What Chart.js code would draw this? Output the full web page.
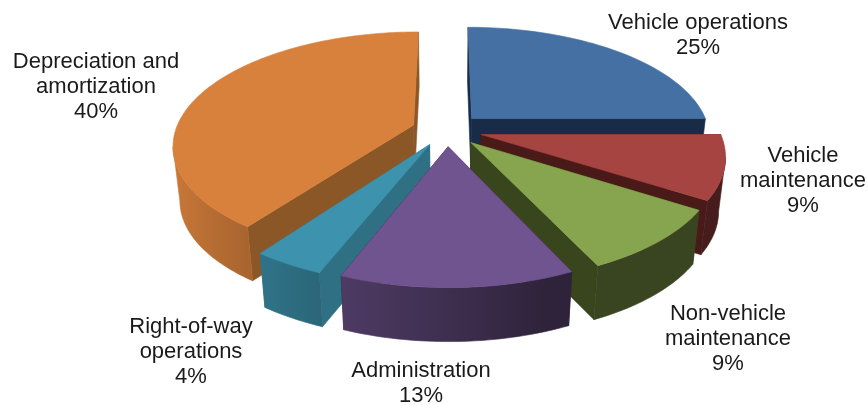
<!DOCTYPE html>
<html>
<head>
<meta charset="utf-8">
<title>Operating costs</title>
<script src="https://cdn.jsdelivr.net/npm/chart.js"></script>
<style>
  html, body { margin: 0; padding: 0; background: #fff; }
  canvas { display: block; }
</style>
</head>
<body>
<canvas id="pie-chart" width="867" height="405"></canvas>
<script>
const categories = ['Vehicle operations', 'Vehicle maintenance', 'Non-vehicle maintenance', 'Administration', 'Right-of-way operations', 'Depreciation and amortization'];
const shares = [25, 9, 9, 13, 4, 40];

// wrapped label text, same order as categories
const labelLines = [
  ['Vehicle operations'],
  ['Vehicle', 'maintenance'],
  ['Non-vehicle', 'maintenance'],
  ['Administration'],
  ['Right-of-way', 'operations'],
  ['Depreciation and', 'amortization']
];
const labelAnchors = [[698, 29], [803, 162], [728, 320], [421, 377], [191, 333], [96, 68]];

const topColors = ['#4470a4', '#a64442', '#87a44e', '#70548f', '#3d93ae', '#d8813c'];
const cutColors = ['#182c48', '#4a1a18', '#38451d', '#2c2040', '#2f7085', '#8c5726'];

// the view of the tilted pie
const view = { cx: 447, cy: 130, radius: 238, tilt: 0.464, persp: 0.17, depth: 54, shrink: 0.975 };

function project(u, v) {
  const p = 1 / (1 - view.persp * v);
  return [view.cx + view.radius * u * p, view.cy + view.radius * view.tilt * v * p];
}

function lower(pt) {
  return [view.cx + (pt[0] - view.cx) * view.shrink, pt[1] + view.depth];
}

function shade(hex, f) {
  const n = parseInt(hex.slice(1), 16);
  const r = Math.round((n >> 16) * f);
  const g = Math.round(((n >> 8) & 255) * f);
  const b = Math.round((n & 255) * f);
  return `rgb(${r},${g},${b})`;
}

function fillPoly(ctx, pts, color) {
  ctx.beginPath();
  pts.forEach((p, i) => (i ? ctx.lineTo(p[0], p[1]) : ctx.moveTo(p[0], p[1])));
  ctx.closePath();
  ctx.fillStyle = color;
  ctx.strokeStyle = color;
  ctx.lineWidth = 0.6;
  ctx.fill();
  ctx.stroke();
}

// outer wall in one piece, lighter to the left and darker to the right
function fillWall(ctx, front, top) {
  const xs = front.map(r => r.pt[0]);
  const x0 = Math.min(...xs);
  const x1 = Math.max(...xs);
  const grad = ctx.createLinearGradient(x0, 0, x1, 0);
  [...front].sort((p, q) => p.pt[0] - q.pt[0]).forEach(r => {
    grad.addColorStop((r.pt[0] - x0) / (x1 - x0), shade(top, Math.max(0.42, 0.55 - 0.4 * Math.cos(r.a))));
  });
  const upper = front.map(r => r.pt);
  fillPoly(ctx, upper.concat(upper.map(lower).reverse()), grad);
}

// pie arcs come from the chart, this only draws them as tilted solid slices
const solidPie = {
  id: 'solidPie',
  beforeDatasetsDraw(chart) {
    const ctx = chart.ctx;
    const arcs = chart.getDatasetMeta(0).data.map((arc, index) => ({ arc, index }));
    const midOf = a => (a.arc.startAngle + a.arc.endAngle) / 2;
    arcs.sort((a, b) => Math.sin(midOf(a)) - Math.sin(midOf(b)));

    arcs.forEach(item => {
      const arc = item.arc;
      const mid = midOf(item);
      const e = arc.options.offset / arc.outerRadius;
      const ou = Math.cos(mid) * e;
      const ov = Math.sin(mid) * e;
      const apex = project(ou, ov);
      const steps = Math.max(8, Math.round((arc.endAngle - arc.startAngle) * 40));
      const rim = [];
      for (let i = 0; i <= steps; i++) {
        const a = arc.startAngle + (arc.endAngle - arc.startAngle) * i / steps;
        rim.push({ a, pt: project(ou + Math.cos(a), ov + Math.sin(a)) });
      }
      const first = rim[0].pt;
      const last = rim[steps].pt;
      const cut = cutColors[item.index];
      const top = topColors[item.index];

      fillPoly(ctx, [apex, first, lower(first), lower(apex)], cut);
      fillPoly(ctx, [apex, last, lower(last), lower(apex)], cut);

      // the rim faces the viewer where it runs right to left on screen
      const front = rim.filter((r, i) =>
        (rim[i + 1] && rim[i + 1].pt[0] < r.pt[0]) || (rim[i - 1] && r.pt[0] < rim[i - 1].pt[0]));
      if (front.length > 1) fillWall(ctx, front, top);

      fillPoly(ctx, [apex].concat(rim.map(r => r.pt)), top);
    });
    return false;
  }
};

const sliceLabels = {
  id: 'sliceLabels',
  afterDraw(chart) {
    const ctx = chart.ctx;
    ctx.save();
    ctx.font = '22px "Liberation Sans", Arial, sans-serif';
    ctx.fillStyle = '#1a1a1a';
    ctx.textAlign = 'center';
    ctx.textBaseline = 'alphabetic';
    labelLines.forEach((lines, i) => {
      const [x, y] = labelAnchors[i];
      lines.concat(shares[i] + '%').forEach((line, n) => ctx.fillText(line, x, y + n * 25.2));
    });
    ctx.restore();
  }
};

new Chart(document.getElementById('pie-chart').getContext('2d'), {
  type: 'pie',
  data: {
    labels: categories,
    datasets: [{
      data: shares,
      backgroundColor: topColors,
      borderWidth: 0,
      offset: 28
    }]
  },
  options: {
    responsive: false,
    animation: false,
    devicePixelRatio: 1,
    plugins: {
      legend: { display: false },
      title: { display: false }
    }
  },
  plugins: [solidPie, sliceLabels]
});
</script>
</body>
</html>
